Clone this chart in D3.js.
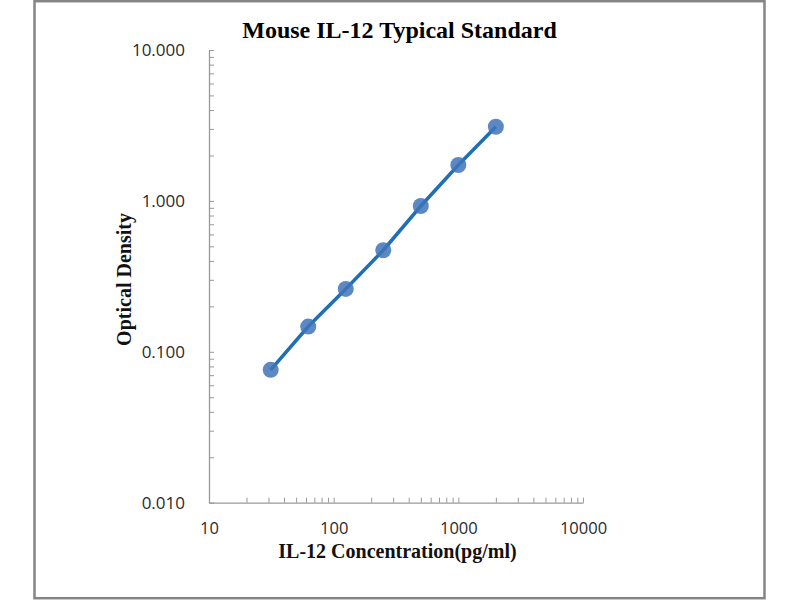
<!DOCTYPE html>
<html>
<head>
<meta charset="utf-8">
<script src="https://cdn.jsdelivr.net/npm/d3@7"></script>
<style>
  html, body { margin: 0; padding: 0; background: #fff; }
  svg { display: block; }
</style>
</head>
<body>
<svg id="chart" width="800" height="600"></svg>
<script>
// ---- data ----
const concentrations = [31.25, 62.5, 125, 250, 500, 1000, 2000];
const opticalDensity = [0.076, 0.147, 0.261, 0.471, 0.925, 1.729, 3.10];
const xDecades = [10, 100, 1000, 10000];
const xTickLabels = ["10", "100", "1000", "10000"];
const yDecades = [0.01, 0.1, 1, 10];
const yTickLabels = ["0.010", "0.100", "1.000", "10.000"];
const chartTitle = "Mouse IL-12 Typical Standard";
const xTitle = "IL-12 Concentration(pg/ml)";
const yTitle = "Optical Density";

const svg = d3.select("#chart");

// outer border
svg.append("rect")
  .attr("x", 34.5).attr("y", 1.2)
  .attr("width", 730).attr("height", 597)
  .attr("fill", "#fff")
  .attr("stroke", "#858585").attr("stroke-width", 2.5);

const x = d3.scaleLog().domain([10, 10000]).range([209, 583]);
const y = d3.scaleLog().domain([0.01, 10]).range([502.7, 50]);

const axisColor = "#999";
const labelFont = "'Open Sans', 'Liberation Sans', sans-serif";
const serif = "'Liberation Serif', 'Times New Roman', serif";

// y axis
const yAxis = d3.axisLeft(y)
  .tickValues(y.ticks())
  .tickSizeInner(-5).tickSizeOuter(0)
  .tickPadding(24)
  .tickFormat(d => {
    const i = yDecades.findIndex(v => Math.abs(v - d) / v < 1e-9);
    return i >= 0 ? yTickLabels[i] : "";
  });
const gy = svg.append("g").attr("transform", "translate(209,0)").call(yAxis);
gy.select(".domain").attr("stroke", axisColor).attr("stroke-width", 1.3);
gy.selectAll(".tick line").attr("stroke", axisColor).attr("stroke-width", 1);
gy.selectAll(".tick text")
  .attr("font-family", labelFont).attr("font-size", 17)
  .attr("fill", "#2a2a2a");

// x axis
const xAxis = d3.axisBottom(x)
  .tickValues(x.ticks())
  .tickSizeInner(-5).tickSizeOuter(0)
  .tickPadding(20)
  .tickFormat(d => {
    const i = xDecades.findIndex(v => Math.abs(v - d) / v < 1e-9);
    return i >= 0 ? xTickLabels[i] : "";
  });
const gx = svg.append("g").attr("transform", "translate(0,502.7)").call(xAxis);
gx.select(".domain").attr("stroke", axisColor).attr("stroke-width", 1.3);
gx.selectAll(".tick line").attr("stroke", axisColor).attr("stroke-width", 1);
gx.selectAll(".tick text")
  .attr("font-family", labelFont).attr("font-size", 16.5)
  .attr("fill", "#2a2a2a");

// data line + markers
const pts = concentrations.map((c, i) => [c, opticalDensity[i]]);
svg.append("path")
  .datum(pts)
  .attr("fill", "none")
  .attr("stroke", "#1f6fb6")
  .attr("stroke-width", 3.5)
  .attr("d", d3.line().x(d => x(d[0])).y(d => y(d[1])));

svg.selectAll("circle.pt")
  .data(pts)
  .join("circle")
  .attr("class", "pt")
  .attr("cx", d => x(d[0]))
  .attr("cy", d => y(d[1]))
  .attr("r", 8)
  .attr("fill", "#3f74b8")
  .attr("fill-opacity", 0.85);

// titles
svg.append("text")
  .attr("x", 399.5).attr("y", 38.3)
  .attr("text-anchor", "middle")
  .attr("font-family", serif).attr("font-weight", "bold")
  .attr("font-size", 24).attr("fill", "#000")
  .text(chartTitle);

svg.append("text")
  .attr("x", 397.5).attr("y", 557.5)
  .attr("text-anchor", "middle")
  .attr("font-family", serif).attr("font-weight", "bold")
  .attr("font-size", 20).attr("fill", "#111")
  .text(xTitle);

svg.append("text")
  .attr("transform", "translate(131,279.5) rotate(-90)")
  .attr("text-anchor", "middle")
  .attr("font-family", serif).attr("font-weight", "bold")
  .attr("font-size", 20).attr("fill", "#111")
  .text(yTitle);
</script>
</body>
</html>
